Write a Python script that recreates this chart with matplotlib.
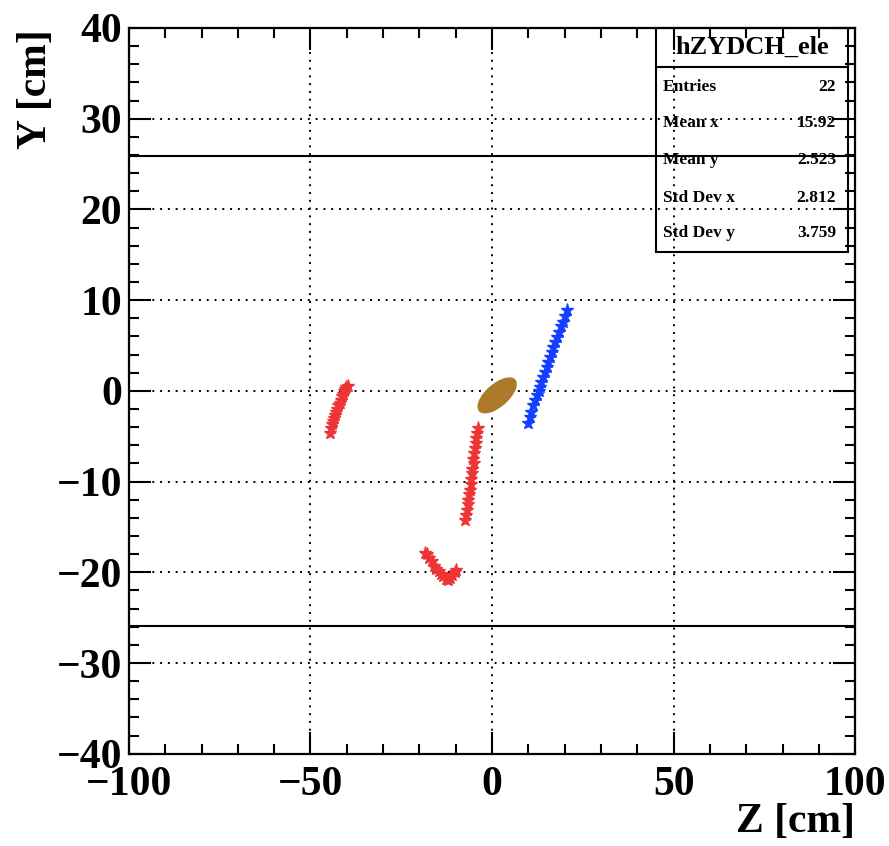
import numpy as np
import matplotlib.pyplot as plt
from matplotlib.patches import Ellipse, Rectangle
from matplotlib.transforms import Affine2D
from matplotlib.ticker import MultipleLocator

plt.rcParams['font.family'] = ['Liberation Serif', 'DejaVu Serif']
plt.rcParams['font.weight'] = 'bold'

# hits of the electron-like tracks (z, y) in cm
red1_z = [-44.6, -44.3, -44.0, -43.8, -43.5, -43.2, -42.9, -42.6, -42.3, -42.0,
          -41.7, -41.3, -41.0, -40.7, -40.4, -40.1, -39.8]
red1_y = [-4.6, -4.1, -3.7, -3.3, -3.0, -2.7, -2.3, -2.0, -1.6, -1.3,
          -1.0, -0.6, -0.3, 0.0, 0.2, 0.4, 0.5]

red2_z = [-3.9, -4.1, -4.4, -4.5, -4.8, -4.9, -5.2, -5.1, -5.4, -5.6,
          -5.8, -5.9, -6.2, -6.3, -6.5, -6.7, -6.9, -7.2, -7.4]
red2_y = [-4.1, -4.6, -5.2, -5.8, -6.3, -6.9, -7.5, -8.0, -8.6, -9.1,
          -9.7, -10.3, -10.9, -11.4, -12.0, -12.5, -13.1, -13.7, -14.2]

red3_z = [-18.5, -17.9, -17.3, -16.6, -16.0, -15.4, -14.7, -14.1, -13.4,
          -12.8, -12.1, -11.5, -10.9, -10.3, -9.8]
red3_y = [-17.9, -18.0, -18.4, -18.8, -19.3, -19.6, -19.9, -20.2, -20.4,
          -20.7, -20.8, -20.6, -20.3, -20.0, -19.7]

blue_z = [9.9, 10.4, 10.8, 11.3, 11.9, 12.4, 12.8, 13.2, 13.6, 14.1, 14.6,
          15.0, 15.5, 16.0, 16.5, 16.9, 17.4, 17.9, 18.4, 19.0, 19.6, 20.2, 20.7]
blue_y = [-3.5, -2.9, -2.3, -1.6, -1.0, -0.5, 0.0, 0.4, 1.0, 1.5, 2.1,
          2.6, 3.2, 3.7, 4.3, 4.8, 5.4, 5.9, 6.5, 7.1, 7.6, 8.3, 8.9]

# vertex ellipse: centre and the two conjugate half-axes, in cm
vtx_center = (1.4, -0.5)
vtx_half_major = (5.0, 1.75)
vtx_half_minor = (-2.1, 0.95)

chamber_y = [25.9, -25.9]

stats_labels = ['Entries', 'Mean x', 'Mean y', 'Std Dev x', 'Std Dev y']
stats_values = ['22', '15.92', '2.523', '2.812', '3.759']

fig = plt.figure(figsize=(8.89, 8.46), dpi=100)
ax = fig.add_axes([0.145, 0.109, 0.817, 0.858])

ax.set_xlim(-100, 100)
ax.set_ylim(-40, 40)

ax.xaxis.set_major_locator(MultipleLocator(50))
ax.xaxis.set_minor_locator(MultipleLocator(10))
ax.yaxis.set_major_locator(MultipleLocator(10))
ax.yaxis.set_minor_locator(MultipleLocator(2))
ax.tick_params(which='both', direction='in', top=True, right=True, width=1.5)
ax.tick_params(which='major', length=15.5, labelsize=30)
ax.tick_params(which='minor', length=7)
ax.tick_params(axis='x', pad=9)
ax.tick_params(axis='y', pad=5)
for lbl in ax.get_xticklabels() + ax.get_yticklabels():
    lbl.set_fontweight('bold')
for sp in ax.spines.values():
    sp.set_linewidth(1.6)

ax.grid(True, which='major', color='black', linestyle=(0, (1, 3.0)), linewidth=1.4)
ax.set_axisbelow(True)

for yv in chamber_y:
    ax.axhline(yv, color='black', linewidth=1.5, zorder=2)

star = dict(marker='*', linestyle='none', markersize=9.5, markeredgewidth=1.0, zorder=3)
ax.plot(red1_z, red1_y, color='#ee3535', **star)
ax.plot(red2_z, red2_y, color='#ee3535', **star)
ax.plot(red3_z, red3_y, color='#ee3535', **star)
ax.plot(blue_z, blue_y, color='#1540ff', **star)

# unit circle mapped onto the vertex ellipse
m = Affine2D.from_values(vtx_half_major[0], vtx_half_major[1],
                         vtx_half_minor[0], vtx_half_minor[1],
                         vtx_center[0], vtx_center[1])
ax.add_patch(Ellipse((0, 0), 2, 2, facecolor='#ad7a2b', edgecolor='none',
                     transform=m + ax.transData, zorder=4))

# stats box
fx0, fx1 = 656 / 889, 848 / 889
fy_top, fy_sep, fy_bot = 1 - 28 / 846, 1 - 67 / 846, 1 - 252 / 846
fig.add_artist(Rectangle((fx0, fy_bot), fx1 - fx0, fy_top - fy_bot,
                         transform=fig.transFigure, fill=False,
                         edgecolor='black', linewidth=1.5, zorder=5))
fig.add_artist(plt.Line2D([fx0, fx1], [fy_sep, fy_sep], transform=fig.transFigure,
                          color='black', linewidth=1.5, zorder=5))
fig.text((fx0 + fx1) / 2, 1 - 47 / 846, 'hZYDCH_ele', ha='center', va='center',
         fontsize=19, fontweight='bold')
row_y = [87, 123, 160, 198, 233]
for lab, val, py in zip(stats_labels, stats_values, row_y):
    fig.text(663 / 889, 1 - py / 846, lab, ha='left', va='center',
             fontsize=12.5, fontweight='bold')
    fig.text(836 / 889, 1 - py / 846, val, ha='right', va='center',
             fontsize=12.5, fontweight='bold')

fig.text(0.04, 0.965, 'Y [cm]', rotation=90, ha='center', va='top',
         fontsize=30, fontweight='bold')
fig.text(0.962, 0.006, 'Z [cm]', ha='right', va='bottom',
         fontsize=30, fontweight='bold')

fig.savefig('out.png', dpi=100)
